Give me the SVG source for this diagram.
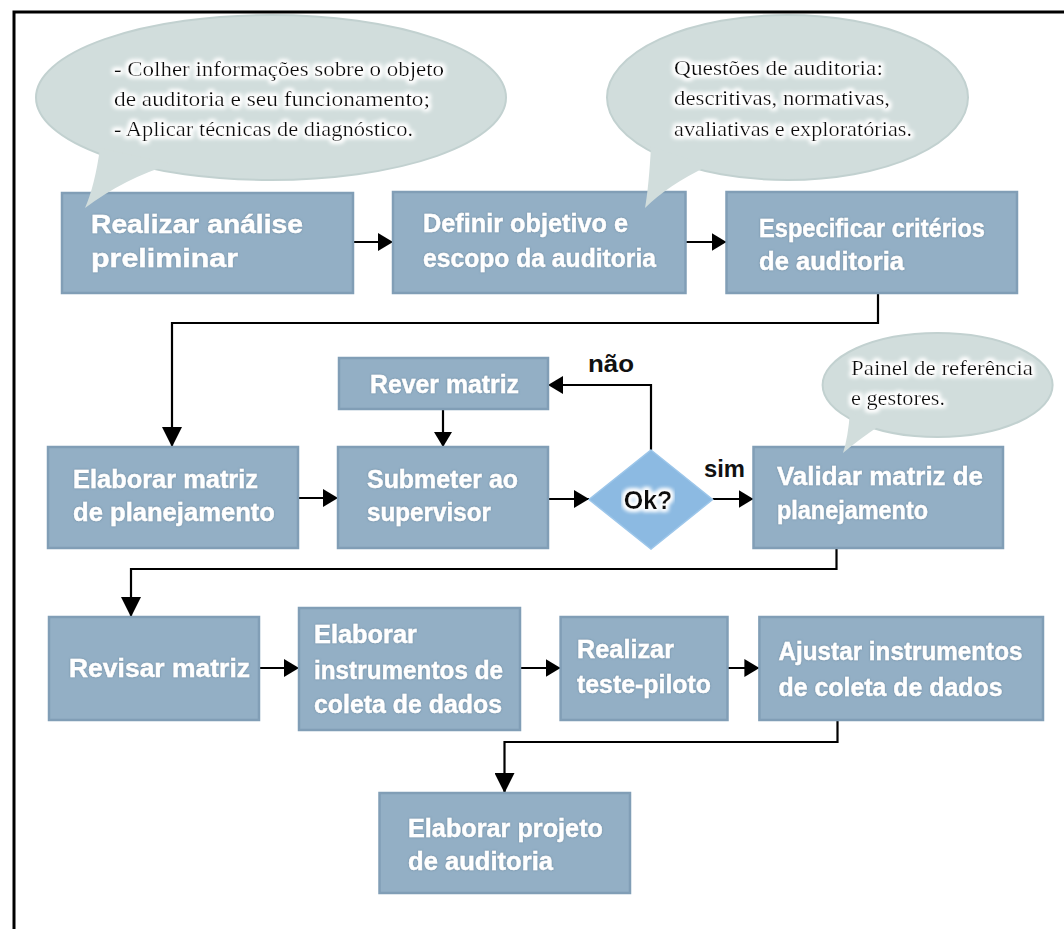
<svg xmlns="http://www.w3.org/2000/svg" width="1064" height="929" viewBox="0 0 1064 929">
<style>
.box{fill:#93afc5;stroke:#819eb6;stroke-width:2.5;filter:url(#soft)}
.bt{font-family:"Liberation Sans",Arial,sans-serif;font-weight:bold;font-size:26px;fill:#fff;stroke:#fff;stroke-width:0.4;filter:url(#tshadow)}
.bub{fill:#d1dddc}
.bube{fill:#d1dddc;stroke:#c2d1d0;stroke-width:2}
.st{font-family:"Liberation Serif","Times New Roman",serif;font-size:21.5px;fill:#111;filter:url(#glow)}
.lbl{font-family:"Liberation Sans",Arial,sans-serif;font-weight:bold;font-size:24px;fill:#111}
.ln{fill:none;stroke:#000;stroke-width:2.2}
.sa{marker-end:url(#ah)}
.la{marker-end:url(#ahl)}
</style>
<defs>
<filter id="soft" x="-5%" y="-5%" width="110%" height="110%"><feGaussianBlur stdDeviation="0.7"/></filter>
<filter id="tshadow" x="-5%" y="-20%" width="110%" height="140%"><feDropShadow dx="0" dy="0" stdDeviation="1" flood-color="#5a778d" flood-opacity="0.7"/></filter>
<filter id="glow" x="-5%" y="-30%" width="110%" height="160%">
<feMorphology in="SourceAlpha" operator="dilate" radius="1.5" result="d"/>
<feGaussianBlur in="d" stdDeviation="2" result="b"/>
<feFlood flood-color="#ffffff"/>
<feComposite in2="b" operator="in" result="w"/>
<feMerge><feMergeNode in="w"/><feMergeNode in="w"/><feMergeNode in="SourceGraphic"/></feMerge>
</filter>
<marker id="ah" markerUnits="userSpaceOnUse" markerWidth="15" markerHeight="18" refX="15" refY="9" orient="auto"><path d="M0,0 L15,9 L0,18 Z" fill="#000"/></marker>
<marker id="ahl" markerUnits="userSpaceOnUse" markerWidth="20" markerHeight="20" refX="20" refY="10" orient="auto"><path d="M0,0 L20,10 L0,20 Z" fill="#000"/></marker>
</defs>
<rect x="0" y="0" width="1064" height="929" fill="#fff"/>
<path d="M14,929 V12 H1064" fill="none" stroke="#000" stroke-width="3"/>

<g id="connectors">
<path class="ln sa" d="M353,242 H393"/>
<path class="ln sa" d="M685.5,242 H726.5"/>
<path class="ln la" d="M878,293 V323 H172 V447"/>
<path class="ln sa" d="M298,498 H338"/>
<path class="ln sa" d="M443,409 V447"/>
<path class="ln sa" d="M548,499 H589"/>
<path class="ln sa" d="M651,450 V385 H548"/>
<path class="ln sa" d="M712.6,499 H753.5"/>
<path class="ln la" d="M836.5,548 V569 H131 V617"/>
<path class="ln sa" d="M259,668 H299"/>
<path class="ln sa" d="M520,668 H560.6"/>
<path class="ln sa" d="M727.5,668 H759.4"/>
<path class="ln la" d="M837.5,720 V742 H504.5 V793"/>
<text class="lbl" x="588" y="372" textLength="46" lengthAdjust="spacingAndGlyphs">não</text>
<text class="lbl" x="704" y="477" textLength="41" lengthAdjust="spacingAndGlyphs">sim</text>
</g>

<g id="n1"><rect class="box" x="62" y="193" width="291" height="100"/>
<text class="bt" x="91" y="233" textLength="212" lengthAdjust="spacingAndGlyphs">Realizar análise</text>
<text class="bt" x="91" y="267" textLength="147" lengthAdjust="spacingAndGlyphs">preliminar</text></g>

<g id="n2"><rect class="box" x="393" y="192" width="292.5" height="101"/>
<text class="bt" x="423" y="232" textLength="205" lengthAdjust="spacingAndGlyphs">Definir objetivo e</text>
<text class="bt" x="423" y="267" textLength="233" lengthAdjust="spacingAndGlyphs">escopo da auditoria</text></g>

<g id="n3"><rect class="box" x="726.5" y="192" width="290.5" height="101"/>
<text class="bt" x="759" y="237" textLength="226" lengthAdjust="spacingAndGlyphs">Especificar critérios</text>
<text class="bt" x="759" y="270" textLength="145" lengthAdjust="spacingAndGlyphs">de auditoria</text></g>

<g id="n4"><rect class="box" x="48" y="447" width="250" height="101"/>
<text class="bt" x="73" y="488" textLength="185" lengthAdjust="spacingAndGlyphs">Elaborar matriz</text>
<text class="bt" x="73" y="521" textLength="202" lengthAdjust="spacingAndGlyphs">de planejamento</text></g>

<g id="n5"><rect class="box" x="338" y="447" width="210" height="101"/>
<text class="bt" x="367" y="488" textLength="151" lengthAdjust="spacingAndGlyphs">Submeter ao</text>
<text class="bt" x="367" y="521" textLength="124" lengthAdjust="spacingAndGlyphs">supervisor</text></g>

<g id="n6"><rect class="box" x="339" y="358" width="209" height="51"/>
<text class="bt" x="370" y="393" textLength="149" lengthAdjust="spacingAndGlyphs">Rever matriz</text></g>

<g id="n7"><path d="M651,450 L712.6,499.5 L651,549 L589,499.5 Z" fill="#8cbae2" stroke="#9cc6ea" stroke-width="1.5"/>
<text x="648" y="509" text-anchor="middle" font-family="Liberation Sans,Arial,sans-serif" font-weight="bold" font-size="25" fill="#111" filter="url(#glow)">Ok?</text></g>

<g id="n8"><rect class="box" x="753.5" y="447" width="249.5" height="101"/>
<text class="bt" x="777" y="485" textLength="206" lengthAdjust="spacingAndGlyphs">Validar matriz de</text>
<text class="bt" x="777" y="519" textLength="151" lengthAdjust="spacingAndGlyphs">planejamento</text></g>

<g id="n9"><rect class="box" x="49" y="617" width="210" height="103"/>
<text class="bt" x="69" y="677" textLength="181" lengthAdjust="spacingAndGlyphs">Revisar matriz</text></g>

<g id="n10"><rect class="box" x="299" y="608" width="221" height="122"/>
<text class="bt" x="314" y="643" textLength="103" lengthAdjust="spacingAndGlyphs">Elaborar</text>
<text class="bt" x="314" y="679" textLength="189" lengthAdjust="spacingAndGlyphs">instrumentos de</text>
<text class="bt" x="314" y="713" textLength="188" lengthAdjust="spacingAndGlyphs">coleta de dados</text></g>

<g id="n11"><rect class="box" x="560.6" y="617" width="166.9" height="103"/>
<text class="bt" x="577" y="658" textLength="97" lengthAdjust="spacingAndGlyphs">Realizar</text>
<text class="bt" x="577" y="693" textLength="134" lengthAdjust="spacingAndGlyphs">teste-piloto</text></g>

<g id="n12"><rect class="box" x="759.4" y="617" width="283.6" height="103"/>
<text class="bt" x="778.5" y="660" textLength="244" lengthAdjust="spacingAndGlyphs">Ajustar instrumentos</text>
<text class="bt" x="778.5" y="696" textLength="224" lengthAdjust="spacingAndGlyphs">de coleta de dados</text></g>

<g id="n13"><rect class="box" x="379.5" y="793" width="250.5" height="100"/>
<text class="bt" x="408" y="837" textLength="195" lengthAdjust="spacingAndGlyphs">Elaborar projeto</text>
<text class="bt" x="408" y="870" textLength="145" lengthAdjust="spacingAndGlyphs">de auditoria</text></g>

<g id="b1"><ellipse class="bube" cx="271" cy="97.5" rx="235" ry="82.5"/>
<path class="bub" d="M100,148 Q95,185 85,208 Q125,178 172,164 Z"/>
<text class="st" x="114" y="76" textLength="330" lengthAdjust="spacingAndGlyphs">- Colher informações sobre o objeto</text>
<text class="st" x="114" y="106" textLength="316" lengthAdjust="spacingAndGlyphs">de auditoria e seu funcionamento;</text>
<text class="st" x="114" y="136" textLength="299" lengthAdjust="spacingAndGlyphs">- Aplicar técnicas de diagnóstico.</text></g>

<g id="b2"><ellipse class="bube" cx="787.5" cy="97.5" rx="180.5" ry="82.5"/>
<path class="bub" d="M651,146 Q649,185 645,208 Q668,185 708,166 Z"/>
<text class="st" x="674" y="75" textLength="209" lengthAdjust="spacingAndGlyphs">Questões de auditoria:</text>
<text class="st" x="674" y="105" textLength="216" lengthAdjust="spacingAndGlyphs">descritivas, normativas,</text>
<text class="st" x="674" y="136" textLength="238" lengthAdjust="spacingAndGlyphs">avaliativas e exploratórias.</text></g>

<g id="b3"><ellipse class="bube" cx="937.6" cy="385" rx="115" ry="52"/>
<path class="bub" d="M850,412 Q848,438 843,453 Q858,440 882,424 Z"/>
<text class="st" x="851" y="375" textLength="182" lengthAdjust="spacingAndGlyphs">Painel de referência</text>
<text class="st" x="851" y="405" textLength="94" lengthAdjust="spacingAndGlyphs">e gestores.</text></g>
</svg>
